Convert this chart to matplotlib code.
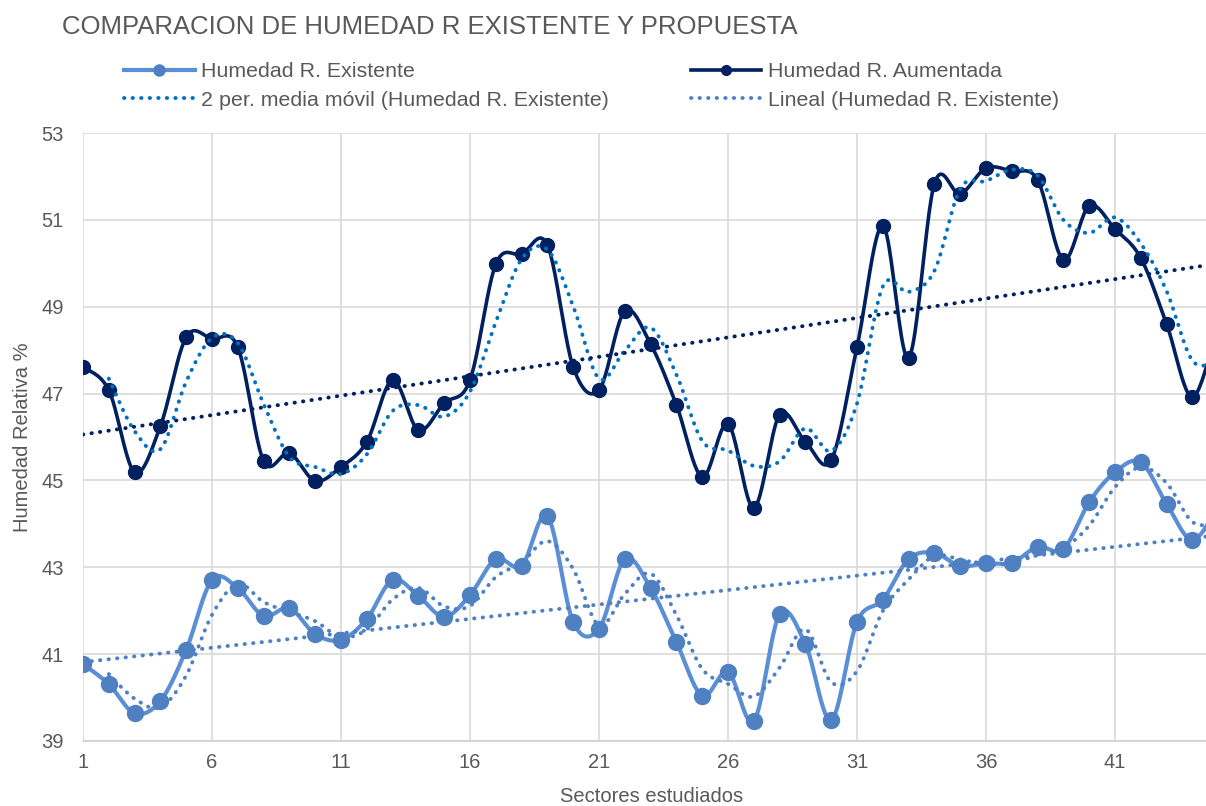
import numpy as np
import matplotlib
matplotlib.use('Agg')
import matplotlib.pyplot as plt
from matplotlib.lines import Line2D

plt.rcParams['font.family'] = ['Liberation Sans', 'DejaVu Sans']

sectores = np.arange(1, 46)
existente = [40.77, 40.31, 39.64, 39.92, 41.10, 42.71, 42.52, 41.88, 42.06, 41.46,
             41.33, 41.81, 42.71, 42.34, 41.86, 42.36, 43.19, 43.03, 44.18, 41.74,
             41.58, 43.19, 42.52, 41.28, 40.04, 40.59, 39.46, 41.92, 41.23, 39.48,
             41.74, 42.25, 43.19, 43.33, 43.03, 43.10, 43.10, 43.47, 43.42, 44.50,
             45.19, 45.42, 44.46, 43.63, 44.40]
aumentada = [47.61, 47.08, 45.19, 46.25, 48.30, 48.26, 48.07, 45.45, 45.63, 44.99,
             45.31, 45.89, 47.31, 46.16, 46.78, 47.31, 49.98, 50.21, 50.42, 47.61,
             47.08, 48.90, 48.14, 46.74, 45.08, 46.30, 44.37, 46.51, 45.89, 45.47,
             48.07, 50.86, 47.82, 51.83, 51.60, 52.19, 52.12, 51.92, 50.08, 51.32,
             50.79, 50.12, 48.60, 46.92, 48.60]

xticks = [1, 6, 11, 16, 21, 26, 31, 36, 41]
yticks = [39, 41, 43, 45, 47, 49, 51, 53]

C_EXIS = '#5A8FD6'
C_EXIS_MK = '#4F81C2'
C_AUM = '#002060'
C_MA_AUM = '#0070C0'
GRIS = '#595959'


def suavizar(x, y, n=24):
    # curva tipo Catmull-Rom, como el "suavizado" de Excel
    x = np.asarray(x, float)
    y = np.asarray(y, float)
    px = np.r_[x[0], x, x[-1]]
    py = np.r_[y[0], y, y[-1]]
    xs, ys = [], []
    t = np.linspace(0, 1, n, endpoint=False)
    for i in range(1, len(px) - 2):
        p0, p1, p2, p3 = px[i - 1], px[i], px[i + 1], px[i + 2]
        q0, q1, q2, q3 = py[i - 1], py[i], py[i + 1], py[i + 2]
        b1x, b1y = p1 + (p2 - p0) / 6, q1 + (q2 - q0) / 6
        b2x, b2y = p2 - (p3 - p1) / 6, q2 - (q3 - q1) / 6
        xs.append((1 - t)**3 * p1 + 3 * (1 - t)**2 * t * b1x + 3 * (1 - t) * t**2 * b2x + t**3 * p2)
        ys.append((1 - t)**3 * q1 + 3 * (1 - t)**2 * t * b1y + 3 * (1 - t) * t**2 * b2y + t**3 * q2)
    xs.append([x[-1]])
    ys.append([y[-1]])
    return np.concatenate(xs), np.concatenate(ys)


def media_movil(y):
    y = np.asarray(y, float)
    return (y[1:] + y[:-1]) / 2


fig = plt.figure(figsize=(12.06, 8.06), dpi=100)
ax = fig.add_axes([83 / 1206, 65 / 806, 1 - 83 / 1206, (741 - 133) / 806])

dots = dict(linestyle=(0, (0.1, 2.1)), dash_capstyle='round', linewidth=2.8)

# series principales
sx, sy = suavizar(sectores, existente)
ax.plot(sx, sy, color=C_EXIS, lw=3.0, zorder=3)
ax.plot(sectores, existente, 'o', color=C_EXIS_MK, ms=11.5, zorder=4)
sx, sy = suavizar(sectores, aumentada)
ax.plot(sx, sy, color=C_AUM, lw=2.6, zorder=3)
ax.plot(sectores, aumentada, 'o', color=C_AUM, ms=10, zorder=4)

# medias moviles de 2 periodos
mx, my = suavizar(sectores[1:], media_movil(existente))
ax.plot(mx, my, color=C_EXIS_MK, zorder=5, **dots)
mx, my = suavizar(sectores[1:], media_movil(aumentada))
ax.plot(mx, my, color=C_MA_AUM, zorder=5, **dots)

# lineas de tendencia
for serie, col in ((existente, C_EXIS_MK), (aumentada, C_AUM)):
    m, b = np.polyfit(sectores, serie, 1)
    xt = np.array([sectores[0], sectores[-1]])
    ax.plot(xt, m * xt + b, color=col, zorder=5, **dots)

ax.set_xlim(1, 1 + (1206 - 83) / 25.8)
ax.set_ylim(39, 53)
ax.set_xticks(xticks)
ax.set_yticks(yticks)
ax.grid(True, color='#D9D9D9', lw=1.2)
ax.set_axisbelow(True)
for s in ('top', 'right', 'left'):
    ax.spines[s].set_visible(False)
ax.spines['bottom'].set_color('#D0D0D0')
ax.spines['bottom'].set_linewidth(1.2)
ax.tick_params(length=0, labelsize=14.5, colors=GRIS)
ax.tick_params(axis='x', pad=9)
ax.tick_params(axis='y', pad=14)
ax.set_xlabel('Sectores estudiados', fontsize=14.5, color=GRIS)
ax.set_ylabel('Humedad Relativa %', fontsize=14.5, color=GRIS)
ax.xaxis.label.set_va('center')
ax.xaxis.set_label_coords((652 - 83) / (1206 - 83), -(797 - 741) / 608)
ax.yaxis.label.set_va('center')
ax.yaxis.set_label_coords(-(83 - 22) / (1206 - 83), 0.5)

fig.text(62 / 1206, 1 - 27 / 806, 'COMPARACION DE HUMEDAD R EXISTENTE Y PROPUESTA',
         fontsize=18.5, color=GRIS, va='center', ha='left')

handles = [
    Line2D([], [], color=C_EXIS, lw=3.0, marker='o', ms=8, mfc=C_EXIS_MK, mec=C_EXIS_MK),
    Line2D([], [], color=C_MA_AUM, **dots),
    Line2D([], [], color=C_AUM, lw=2.6, marker='o', ms=7),
    Line2D([], [], color=C_EXIS_MK, **dots),
]
labels = ['Humedad R. Existente', '2 per. media móvil (Humedad R. Existente)',
          'Humedad R. Aumentada', 'Lineal (Humedad R. Existente)']
leg = fig.legend(handles, labels, ncol=2, loc='upper left',
                 bbox_to_anchor=(124 / 1206, 1 - 62 / 806), frameon=False,
                 fontsize=15.4, handlelength=3.3, handletextpad=0.32,
                 columnspacing=3.8, labelspacing=0.46, borderpad=0, borderaxespad=0)
for t in leg.get_texts():
    t.set_color(GRIS)

fig.savefig('out.png', dpi=100)
